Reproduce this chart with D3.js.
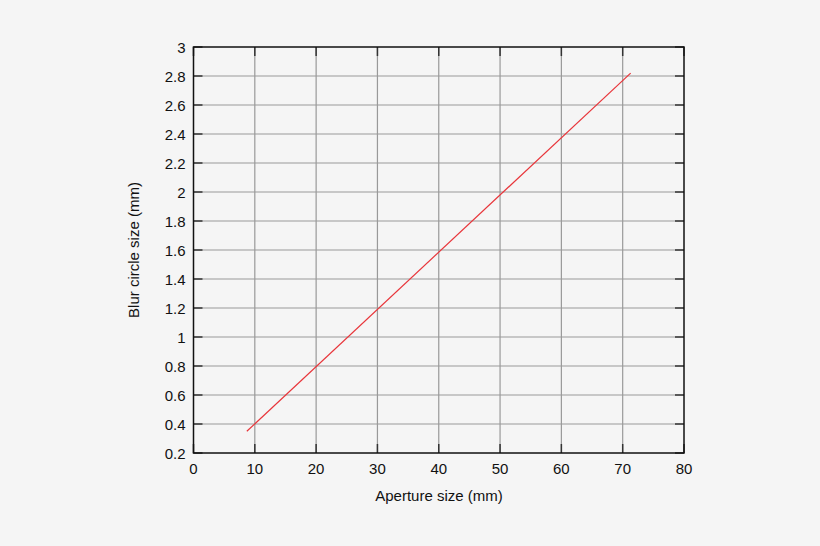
<!DOCTYPE html>
<html>
<head>
<meta charset="utf-8">
<script src="https://cdn.jsdelivr.net/npm/d3@7"></script>
<style>
  body { margin: 0; background: #f5f5f5; }
  svg { display: block; font-family: "Liberation Sans", Arial, sans-serif; }
</style>
</head>
<body>
<div id="vis"></div>
<script>
var w = 820;
var h = 546;

// data
var apertureMm = [8.7, 71.3];
var blurMm = [0.35, 2.82];
var xTicks = [0, 10, 20, 30, 40, 50, 60, 70, 80];
var yTicks = [0.2, 0.4, 0.6, 0.8, 1, 1.2, 1.4, 1.6, 1.8, 2, 2.2, 2.4, 2.6, 2.8, 3];

var pLeft = 193.5, pRight = 684, pTop = 47, pBottom = 453;
var fs = 15;

var svg = d3.select("#vis").append("svg")
    .attr("width", w)
    .attr("height", h);

svg.append("rect").attr("width", w).attr("height", h).attr("fill", "#f5f5f5");

var x = d3.scaleLinear().domain([0, 80]).range([pLeft, pRight]);
var y = d3.scaleLinear().domain([0.2, 3]).range([pBottom, pTop]);

// grid
svg.append("g").selectAll("line")
    .data(xTicks.slice(1, -1))
    .enter().append("line")
    .attr("x1", d => x(d)).attr("x2", d => x(d))
    .attr("y1", pTop).attr("y2", pBottom)
    .attr("stroke", "#999").attr("stroke-width", 1.2);

svg.append("g").selectAll("line")
    .data(yTicks.slice(1, -1))
    .enter().append("line")
    .attr("x1", pLeft).attr("x2", pRight)
    .attr("y1", d => y(d)).attr("y2", d => y(d))
    .attr("stroke", "#999").attr("stroke-width", 1.2);

// inward ticks on all four sides
var tl = 9;
var ticks = svg.append("g").attr("stroke", "#333").attr("stroke-width", 1.5);
xTicks.forEach(function(d) {
    ticks.append("line").attr("x1", x(d)).attr("x2", x(d)).attr("y1", pBottom).attr("y2", pBottom - tl);
    ticks.append("line").attr("x1", x(d)).attr("x2", x(d)).attr("y1", pTop).attr("y2", pTop + tl);
});
yTicks.forEach(function(d) {
    ticks.append("line").attr("x1", pLeft).attr("x2", pLeft + tl).attr("y1", y(d)).attr("y2", y(d));
    ticks.append("line").attr("x1", pRight).attr("x2", pRight - tl).attr("y1", y(d)).attr("y2", y(d));
});

// frame
svg.append("rect")
    .attr("x", pLeft).attr("y", pTop)
    .attr("width", pRight - pLeft).attr("height", pBottom - pTop)
    .attr("fill", "none").attr("stroke", "#111").attr("stroke-width", 1.5);

// tick labels
svg.append("g").selectAll("text")
    .data(xTicks)
    .enter().append("text")
    .attr("x", d => x(d)).attr("y", pBottom + 21)
    .attr("text-anchor", "middle")
    .attr("font-size", fs).attr("fill", "#111")
    .text(d => d);

svg.append("g").selectAll("text")
    .data(yTicks)
    .enter().append("text")
    .attr("x", pLeft - 8).attr("y", d => y(d) + 5.5)
    .attr("text-anchor", "end")
    .attr("font-size", fs).attr("fill", "#111")
    .text(d => d);

// the series
var pts = apertureMm.map((a, i) => [a, blurMm[i]]);
svg.append("path")
    .datum(pts)
    .attr("d", d3.line().x(d => x(d[0])).y(d => y(d[1])))
    .attr("fill", "none")
    .attr("stroke", "#e8353a")
    .attr("stroke-width", 1.2);

// axis titles
svg.append("text")
    .attr("x", 439).attr("y", 501)
    .attr("text-anchor", "middle")
    .attr("font-size", fs).attr("fill", "#111")
    .text("Aperture size (mm)");

svg.append("text")
    .attr("transform", "translate(139," + ((pTop + pBottom) / 2) + ") rotate(-90)")
    .attr("text-anchor", "middle")
    .attr("font-size", fs).attr("fill", "#111")
    .text("Blur circle size (mm)");
</script>
</body>
</html>
